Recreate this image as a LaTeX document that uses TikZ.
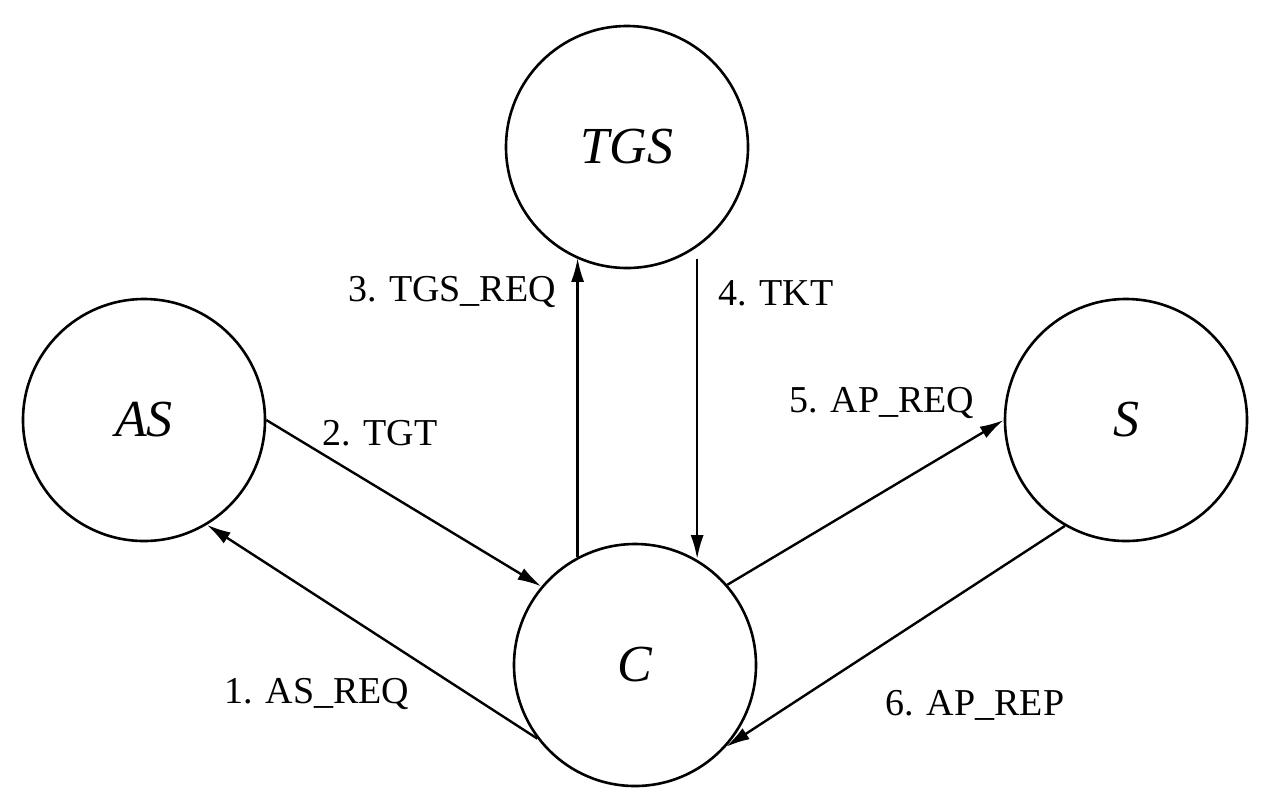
\documentclass[tikz,border=0pt]{standalone}
\usepackage{fontspec}
\setmainfont{Liberation Serif}
\usetikzlibrary{arrows.meta}
\begin{document}
\begin{tikzpicture}[x=0.5pt,y=-0.5pt,
  state/.style={circle, draw, line width=1.3pt, minimum size=121pt, inner sep=0pt,
    font=\fontsize{26}{30}\selectfont\itshape},
  lbl/.style={font=\fontsize{19}{22}\selectfont, inner sep=0pt},
  arr/.style={line width=1.2pt, -{Latex[length=12pt,width=6.5pt]}}]
\useasboundingbox[fill=white] (0,0) rectangle (1278,800);
\node[state] (TGS) at (627,147) {TGS};
\node[state] (AS)  at (144,420) {AS};
\node[state] (S)   at (1126,420) {S};
\node[state] (C)   at (635,665) {C};

\draw[arr] (AS.0) -- (C.140);
\draw[arr] (C.217) -- (AS.-59);
\draw[arr] (C.118) -- (C.118 |- TGS.-115);
\draw[arr, shorten <=6pt] (TGS.-55) -- (TGS.-55 |- C.60);
\draw[arr] (C.41) -- (S.180);
\draw[arr] (S.240) -- (C.-42);

\node[lbl] (l1) at (317,694) {1. AS\_REQ};
\node[lbl] (l2) at (380,433) {2. TGT};
\node[lbl] (l3) at (452,292) {3. TGS\_REQ};
\node[lbl] (l4) at (776,293) {4. TKT};
\node[lbl] (l5) at (882,403) {5. AP\_REQ};
\node[lbl] (l6) at (975,705) {6. AP\_REP};
\end{tikzpicture}
\end{document}
